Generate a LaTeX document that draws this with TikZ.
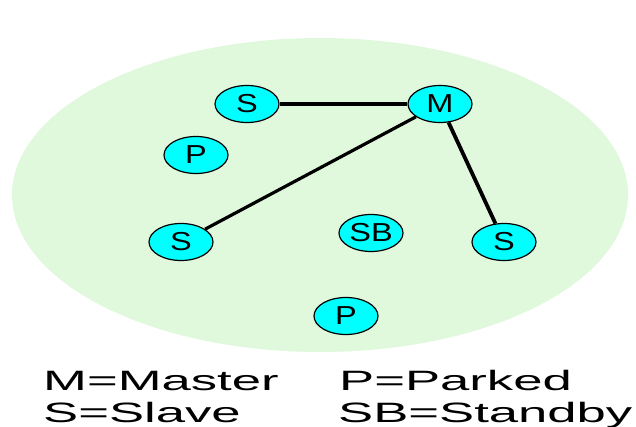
\documentclass[tikz,border=0pt]{standalone}
\usepackage{fontspec}
\usepackage{tikz}
\usetikzlibrary{shapes.geometric}
\newfontfamily\legendfont[FakeStretch=1.88]{Liberation Sans}
\newfontfamily\stationfont[FakeStretch=1.25]{Liberation Sans}
\definecolor{piconet}{RGB}{224,249,221}
\definecolor{station}{RGB}{0,255,255}
\tikzset{
  unit/.style={ellipse,draw=black,line width=1.2pt,fill=station,
    minimum width=64pt,minimum height=37pt,inner sep=0pt,
    font=\stationfont\fontsize{26}{26}\selectfont},
  link/.style={line width=3.2pt,black},
  legend/.style={anchor=base west,inner sep=0pt,
    font=\legendfont\fontsize{28}{28}\selectfont}
}
\begin{document}
\begin{tikzpicture}[x=1pt,y=-1pt]
            \useasboundingbox (0,0) rectangle (636,427);
            \fill[piconet] (320,195) ellipse [x radius=308, y radius=157];
            \node[unit] (m)  at (440,104) {M};
            \node[unit] (s1) at (247,104) {S};
            \node[unit] (p1) at (196,155) {P};
            \node[unit] (s2) at (181,242) {S};
            \node[unit] (sb) at (371,233) {SB};
            \node[unit] (s3) at (504,242) {S};
            \node[unit] (p2) at (346,316) {P};
            \draw[link] (s1) -- (m);
            \draw[link] (m) -- (s2);
            \draw[link,line width=3.8pt] (m) -- (s3);
            \node[legend] (lm)  at (43,390)  {M=Master};
            \node[legend] (ls)  at (43,422)  {S=Slave};
            \node[legend] (lp)  at (339,390) {P=Parked};
            \node[legend] (lsb) at (338,422) {SB=Standby};
        \end{tikzpicture}
\end{document}
